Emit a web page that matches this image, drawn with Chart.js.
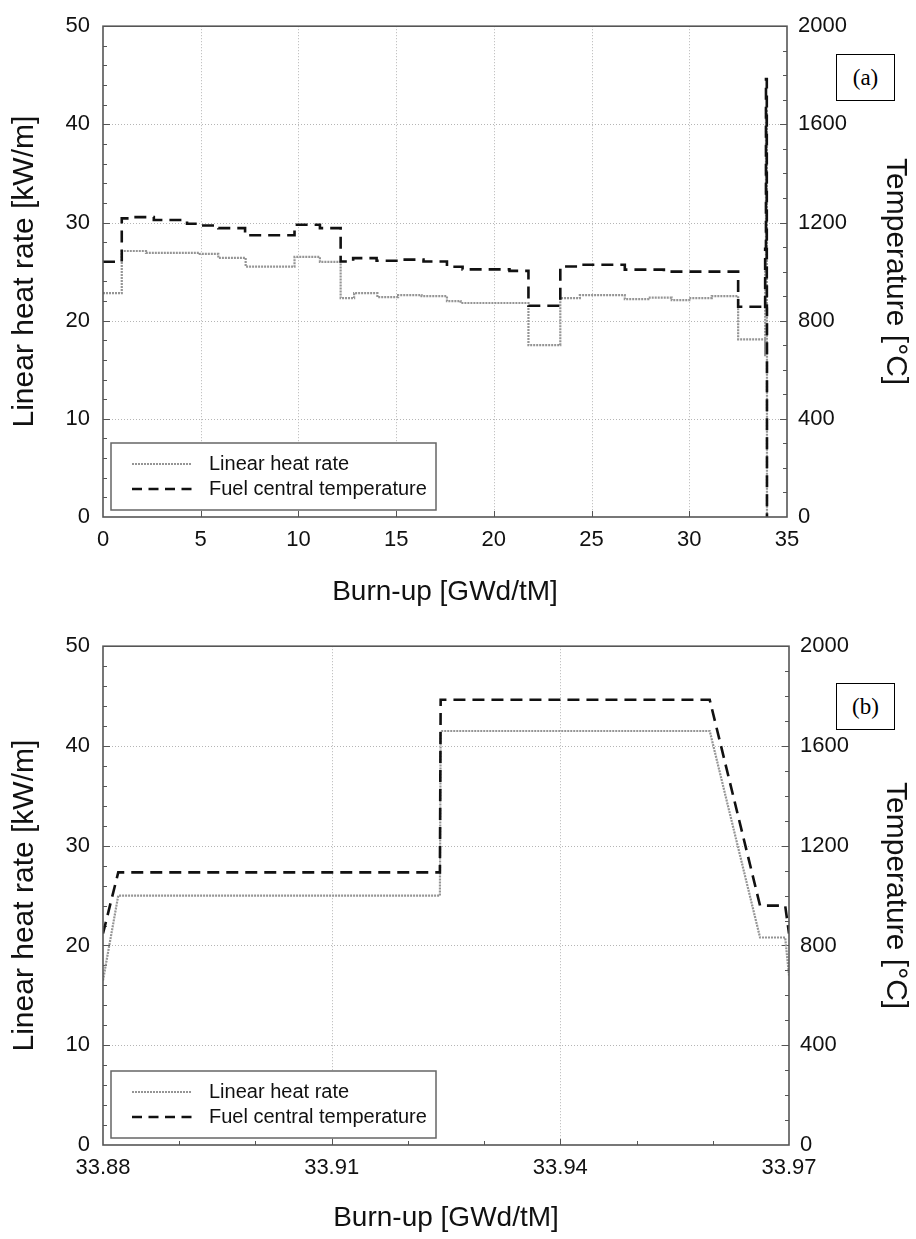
<!DOCTYPE html>
<html>
<head>
<meta charset="utf-8">
<script src="https://cdn.jsdelivr.net/npm/chart.js@4.4.1/dist/chart.umd.min.js"></script>
<style>
html,body{margin:0;padding:0;background:#fff;width:916px;height:1239px;overflow:hidden}
.wrap{position:absolute;left:0;width:916px}
.tag{position:absolute;border:1.3px solid #000;font-family:"Liberation Serif","Times New Roman",serif;font-size:23px;display:flex;align-items:center;justify-content:center;background:#fff;box-sizing:border-box;color:#000}
</style>
</head>
<body>
<div class="wrap" style="top:0;height:620px"><canvas id="c1" width="916" height="620"></canvas></div>
<div class="wrap" style="top:620px;height:619px"><canvas id="c2" width="916" height="619"></canvas></div>
<div class="tag" style="left:836px;top:54px;width:59px;height:47px">(a)</div>
<div class="tag" style="left:836px;top:683px;width:59px;height:47px">(b)</div>
<script>
// ---------- Panel (a): whole irradiation, step levels (segment start burn-up, level) ----------
const burnupStepsA = [0, 0.96, 2.2, 4.95, 5.9, 7.3, 9.8, 11.1, 12.16, 12.85, 14.04, 15.1, 16.3, 17.6, 18.3, 21.77, 23.4, 24.4, 26.7, 27.9, 29.1, 30.0, 31.15, 32.5];
const heatRateA     = [22.8, 27.1, 26.9, 26.8, 26.4, 25.5, 26.5, 26.0, 22.3, 22.8, 22.4, 22.6, 22.5, 22.0, 21.8, 17.5, 22.3, 22.6, 22.2, 22.35, 22.1, 22.3, 22.5, 18.1];
const burnupTempStepsA = [0, 0.96, 1.6, 2.6, 4.3, 4.96, 5.9, 7.27, 9.8, 11.1, 12.16, 12.8, 14.0, 15.1, 16.4, 17.6, 18.4, 20.8, 21.77, 23.4, 24.4, 26.7, 28.7, 32.5];
const tempA            = [1040, 1217, 1222, 1210, 1195, 1188, 1177, 1148, 1191, 1177, 1041, 1055, 1044, 1049, 1041, 1020, 1009, 1003, 861, 1021, 1028, 1008, 1000, 857];
// end of irradiation (shutdown)
const burnupEndA   = [33.975];
const heatRateEndA = [0];
const tempEndA     = [0];

// ---------- Panel (b): power ramp detail ----------
const burnupB   = [33.88, 33.882, 33.9242, 33.9243, 33.9596, 33.9662, 33.9695, 33.97];
const heatRateB = [16.5, 25.0, 25.0, 41.5, 41.5, 20.8, 20.8, 17.0];
const tempB     = [848, 1093, 1093, 1785, 1785, 960, 960, 848];

// ---------- tick settings ----------
const xTicksA = {min: 0, max: 35, step: 5};
const xTicksB = {min: 33.88, max: 33.97, step: 0.03};
const yTicks  = {min: 0, max: 50, step: 10};
const y2Ticks = {min: 0, max: 2000, step: 400};

const LABEL_HEAT = 'Linear heat rate';
const LABEL_TEMP = 'Fuel central temperature';
const TITLE_X  = 'Burn-up [GWd/tM]';
const TITLE_Y  = 'Linear heat rate [kW/m]';
const TITLE_Y2 = 'Temperature [°C]';

const FONT = '"Liberation Sans", Arial, Helvetica, sans-serif';

function pts(xs, ys) { return xs.map((x, i) => ({x: x, y: ys[i]})); }

const decoPlugin = {
  id: 'deco',
  beforeDatasetsDraw(chart, args, o) {
    const ctx = chart.ctx, a = chart.chartArea;
    const sx = chart.scales.x, sy = chart.scales.y, sy2 = chart.scales.y2;
    ctx.save();
    // dotted grid
    ctx.strokeStyle = '#b5b5b5'; ctx.lineWidth = 1; ctx.setLineDash([1, 2]);
    ctx.beginPath();
    sx.ticks.forEach(t => {
      const p = Math.round(sx.getPixelForValue(t.value)) + 0.5;
      if (p > a.left + 2 && p < a.right - 2) { ctx.moveTo(p, a.top); ctx.lineTo(p, a.bottom); }
    });
    sy.ticks.forEach(t => {
      const p = Math.round(sy.getPixelForValue(t.value)) + 0.5;
      if (p > a.top + 2 && p < a.bottom - 2) { ctx.moveTo(a.left, p); ctx.lineTo(a.right, p); }
    });
    ctx.stroke();
    ctx.setLineDash([]);
    // inward tick marks
    ctx.strokeStyle = '#555'; ctx.lineWidth = 1;
    ctx.beginPath();
    const run = (scale, step, len, fn) => {
      if (!step) return;
      const n = Math.round((scale.max - scale.min) / step);
      for (let i = 1; i < n; i++) fn(Math.round(scale.getPixelForValue(scale.min + i * step)) + 0.5, len);
    };
    const xt = (p, l) => { ctx.moveTo(p, a.bottom); ctx.lineTo(p, a.bottom - l); };
    const yl = (p, l) => { ctx.moveTo(a.left, p); ctx.lineTo(a.left + l, p); };
    const yr = (p, l) => { ctx.moveTo(a.right, p); ctx.lineTo(a.right - l, p); };
    run(sx, o.xMajor, 6, xt); run(sx, o.xMinor, 4, xt);
    run(sy, o.yMajor, 7, yl); run(sy, o.yMinor, 4, yl);
    run(sy2, o.y2Major, 7, yr); run(sy2, o.y2Minor, 4, yr);
    ctx.stroke();
    ctx.restore();
  },
  afterDatasetsDraw(chart, args, o) {
    const ctx = chart.ctx, a = chart.chartArea;
    ctx.save();
    // frame
    ctx.strokeStyle = '#555'; ctx.lineWidth = 1.6; ctx.setLineDash([]);
    ctx.strokeRect(a.left, a.top, a.right - a.left, a.bottom - a.top);
    // legend
    const bh = 67, bw = 325, bx = a.left + 8, by = a.bottom - 7 - bh;
    ctx.fillStyle = '#fff'; ctx.fillRect(bx, by, bw, bh);
    ctx.strokeStyle = '#666'; ctx.lineWidth = 1.5; ctx.strokeRect(bx, by, bw, bh);
    chart.data.datasets.forEach((ds, i) => {
      const y = by + 21 + i * 25;
      ctx.strokeStyle = ds.borderColor; ctx.lineWidth = ds.borderWidth;
      ctx.setLineDash(ds.legendDash || ds.borderDash || []);
      ctx.beginPath(); ctx.moveTo(bx + 21, y); ctx.lineTo(bx + 81, y); ctx.stroke();
      ctx.setLineDash([]);
      ctx.fillStyle = '#111'; ctx.font = '20px ' + FONT;
      ctx.textBaseline = 'middle'; ctx.textAlign = 'left';
      ctx.fillText(ds.label, bx + 98, y);
    });
    ctx.restore();
  }
};

function makeChart(id, cfg) {
  const tickFont = {family: FONT, size: 22};
  const titleFont = {family: FONT, size: 28};
  const yTitleFont = {family: FONT, size: 30};
  return new Chart(document.getElementById(id), {
    type: 'line',
    data: {
      datasets: [
        {label: LABEL_HEAT, data: cfg.heat, yAxisID: 'y', borderColor: '#959595', borderWidth: 2.2,
         borderDash: [2, 1], pointRadius: 0, fill: false, stepped: cfg.stepped, order: 2, tension: 0},
        {label: LABEL_TEMP, data: cfg.temp, yAxisID: 'y2', borderColor: '#111', borderWidth: 2.6,
         borderDash: [12, 7], legendDash: [10, 6.5], pointRadius: 0, fill: false, stepped: cfg.stepped, order: 1, tension: 0}
      ]
    },
    options: {
      responsive: false, animation: false, devicePixelRatio: 1,
      layout: {padding: {top: cfg.padTop, left: 0, right: 0, bottom: 0}},
      plugins: {
        legend: {display: false}, tooltip: {enabled: false},
        deco: {xMajor: cfg.xt.step, xMinor: cfg.xMinor, yMajor: yTicks.step, yMinor: 2, y2Major: y2Ticks.step, y2Minor: 100}
      },
      scales: {
        x: {
          type: 'linear', position: 'bottom', min: cfg.xt.min, max: cfg.xt.max,
          ticks: {stepSize: cfg.xt.step, font: tickFont, color: '#111', padding: 10, maxRotation: 0, autoSkip: false,
                  callback: cfg.xFmt},
          grid: {display: false, drawTicks: false}, border: {display: false},
          title: {display: true, text: TITLE_X, font: titleFont, color: '#111', padding: {top: 0, bottom: cfg.xTitlePad}},
          afterFit(s) { s.height = cfg.xHeight; }
        },
        y: {
          type: 'linear', position: 'left', min: yTicks.min, max: yTicks.max,
          ticks: {stepSize: yTicks.step, font: tickFont, color: '#111', padding: 13, callback: v => String(v)},
          grid: {display: false, drawTicks: false}, border: {display: false},
          title: {display: true, text: TITLE_Y, font: yTitleFont, color: '#111', padding: {top: 7, bottom: 0}},
          afterFit(s) { s.width = 103; }
        },
        y2: {
          type: 'linear', position: 'right', min: y2Ticks.min, max: y2Ticks.max,
          ticks: {stepSize: y2Ticks.step, font: tickFont, color: '#111', padding: 11, callback: v => String(v)},
          grid: {display: false, drawTicks: false}, border: {display: false},
          title: {display: true, text: TITLE_Y2, font: yTitleFont, color: '#111', padding: {top: 3, bottom: 0}},
          afterFit(s) { s.width = cfg.rightWidth; }
        }
      }
    },
    plugins: [decoPlugin]
  });
}

makeChart('c1', {
  heat: pts(burnupStepsA, heatRateA).concat(pts(burnupB, heatRateB), pts(burnupEndA, heatRateEndA)),
  temp: pts(burnupTempStepsA, tempA).concat(pts(burnupB, tempB), pts(burnupEndA, tempEndA)),
  stepped: true, xt: xTicksA, xMinor: 0, padTop: 18, xHeight: 103, xTitlePad: 11, rightWidth: 129,
  xFmt: v => String(v)
});
makeChart('c2', {
  heat: pts(burnupB, heatRateB),
  temp: pts(burnupB, tempB),
  stepped: false, xt: xTicksB, xMinor: 0.01, padTop: 25, xHeight: 94, xTitlePad: 4, rightWidth: 127,
  xFmt: v => Number(v).toFixed(2)
});
</script>
</body>
</html>
